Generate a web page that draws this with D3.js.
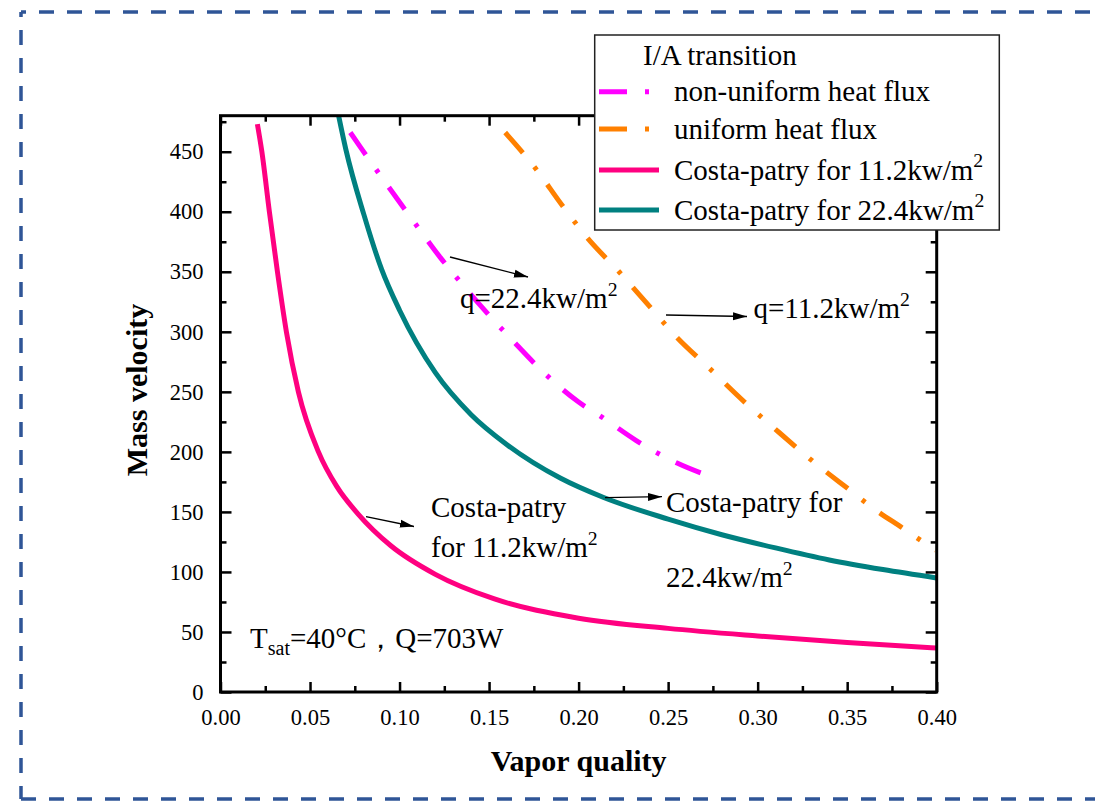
<!DOCTYPE html>
<html><head><meta charset="utf-8">
<script src="https://cdn.jsdelivr.net/npm/d3@7"></script>
<style>
html,body{margin:0;padding:0;background:#fff;}
svg{display:block;}
text{font-family:"Liberation Serif","Times New Roman",serif;fill:#000;}
</style></head>
<body>
<svg id="chart" width="1095" height="801"></svg>
<script>
// ---- data ----
const costa11X = [0.0206,0.0231,0.0273,0.0318,0.0368,0.0435,0.0547,0.065,0.077,0.095,0.12,0.153,0.20,0.25,0.30,0.35,0.40];
const costa11Y = [473,450,400,350,300,250,200,171,148,122,98,77.5,61.5,53,46.7,41.2,36.6];
const costa22X = [0.0650,0.0700,0.080,0.090,0.100,0.120,0.140,0.160,0.190,0.214,0.250,0.280,0.310,0.340,0.370,0.40];
const costa22Y = [487,452,398,352,318,266,231,206,178,162,144,131,120,110,102,95];
const nonUniX = [0.0725,0.079,0.0937,0.1088,0.1227,0.132,0.146,0.163,0.182,0.200,0.213,0.232,0.255,0.2754];
const nonUniY = [466,452,421,390,362,345,320.5,293,264,241.5,229,209.6,190.7,178.6];
const uniX = [0.159,0.176,0.191,0.205,0.2226,0.240,0.2548,0.2728,0.2927,0.3085,0.329,0.3504,0.3674,0.380,0.3993];
const uniY = [466,436,405,378,350,320.5,295.5,270,241.5,220.7,194.4,169.4,150,137.5,118];
const xMajor = [0,0.05,0.10,0.15,0.20,0.25,0.30,0.35,0.40];
const xMinor = [0.025,0.075,0.125,0.175,0.225,0.275,0.325,0.375];
const yMajor = [0,50,100,150,200,250,300,350,400,450];
const yMinor = [25,75,125,175,225,275,325,375,425,475];
const legendTitle = "I/A transition";
const legendLabels = ["non-uniform heat flux","uniform heat flux","Costa-patry for 11.2kw/m","Costa-patry for 22.4kw/m"];

const svg = d3.select("#chart");
const L = 220.5, R = 936.7, T = 115.7, B = 692;
const x = d3.scaleLinear().domain([0,0.4]).range([L,R]);
const y = d3.scaleLinear().domain([0,480]).range([B,T]);

// outer dashed border
const bc = "#2f5597";
const border = svg.append("g").attr("stroke",bc).attr("stroke-width",3.5).attr("fill","none").attr("stroke-dasharray","15,13");
border.append("line").attr("x1",21).attr("y1",12).attr("x2",1100).attr("y2",12).attr("stroke-dashoffset",10);
border.append("line").attr("x1",21).attr("y1",12).attr("x2",21).attr("y2",799).attr("stroke-dashoffset",10);
border.append("line").attr("x1",21).attr("y1",799).attr("x2",1100).attr("y2",799);

// clip + arrow marker
const defs = svg.append("defs");
defs.append("clipPath").attr("id","plotclip").append("rect")
  .attr("x",L).attr("y",T).attr("width",R-L).attr("height",B-T);
defs.append("marker").attr("id","arr").attr("markerUnits","userSpaceOnUse")
  .attr("markerWidth",16).attr("markerHeight",10).attr("refX",14).attr("refY",5).attr("orient","auto")
  .append("path").attr("d","M0,1 L14,5 L0,9 Z").attr("fill","#000");

// curves
const line = d3.line().x(d=>x(d[0])).y(d=>y(d[1])).curve(d3.curveMonotoneX);
const zip = (a,b)=>a.map((v,i)=>[v,b[i]]);
const curves = svg.append("g").attr("clip-path","url(#plotclip)").attr("fill","none");
curves.append("path").attr("d",line(zip(costa11X,costa11Y))).attr("stroke","#ff0080").attr("stroke-width",5);
curves.append("path").attr("d",line(zip(costa22X,costa22Y))).attr("stroke","#008080").attr("stroke-width",5);
curves.append("path").attr("d",line(zip(nonUniX,nonUniY))).attr("stroke","#ff00ff").attr("stroke-width",5).attr("stroke-dasharray","27,18,4,18");
curves.append("path").attr("d",line(zip(uniX,uniY))).attr("stroke","#ff8000").attr("stroke-width",5).attr("stroke-dasharray","27,18,4,18");

// axes
const fmtX = d3.format(".2f");
svg.append("g").attr("transform",`translate(0,${B})`)
  .call(d3.axisBottom(x).tickValues(xMajor).tickSize(-10).tickPadding(17.4).tickFormat(fmtX));
svg.append("g").attr("transform",`translate(0,${B})`).call(d3.axisBottom(x).tickValues(xMinor).tickSize(-6).tickFormat(""));
svg.append("g").attr("transform",`translate(0,${T})`).call(d3.axisTop(x).tickValues(xMajor).tickSize(-10).tickFormat(""));
svg.append("g").attr("transform",`translate(0,${T})`).call(d3.axisTop(x).tickValues(xMinor).tickSize(-6).tickFormat(""));
svg.append("g").attr("transform",`translate(${L},0)`)
  .call(d3.axisLeft(y).tickValues(yMajor).tickSize(-11).tickPadding(17));
svg.append("g").attr("transform",`translate(${L},0)`).call(d3.axisLeft(y).tickValues(yMinor.filter(v=>v<480)).tickSize(-6).tickFormat(""));
svg.append("g").attr("transform",`translate(${R},0)`).call(d3.axisRight(y).tickValues(yMajor).tickSize(-11).tickFormat(""));
svg.append("g").attr("transform",`translate(${R},0)`).call(d3.axisRight(y).tickValues(yMinor.filter(v=>v<480)).tickSize(-6).tickFormat(""));
svg.selectAll(".domain").remove();
svg.selectAll(".tick line").attr("stroke","#000").attr("stroke-width",2.5);
svg.selectAll(".tick text").attr("font-family","Liberation Serif, Times New Roman, serif").attr("font-size",22.5).attr("fill","#000");
// frame
svg.append("rect").attr("x",L).attr("y",T).attr("width",R-L).attr("height",B-T)
  .attr("fill","none").attr("stroke","#000").attr("stroke-width",3);

// axis titles
svg.append("text").attr("x",(L+R)/2).attr("y",771).attr("text-anchor","middle")
  .attr("font-size",30).attr("font-weight","bold").text("Vapor quality");
svg.append("text").attr("transform","translate(147,390) rotate(-90)").attr("text-anchor","middle")
  .attr("font-size",30).attr("font-weight","bold").text("Mass velocity");

// helper for superscript text
function supText(g, xx, yy, main, sup, fs){
  const t = g.append("text").attr("x",xx).attr("y",yy).attr("font-size",fs);
  t.append("tspan").text(main);
  if(sup) t.append("tspan").attr("font-size",fs*0.68).attr("dy",-fs*0.42).text(sup);
  return t;
}
const ann = svg.append("g");
function arrow(x1,y1,x2,y2){
  ann.append("line").attr("x1",x1).attr("y1",y1).attr("x2",x2).attr("y2",y2)
    .attr("stroke","#000").attr("stroke-width",1.3).attr("marker-end","url(#arr)");
}
arrow(450,257,528,277);
supText(ann,460,308,"q=22.4kw/m","2",29);
arrow(666,315,747,316.5);
supText(ann,753.5,318,"q=11.2kw/m","2",29);
arrow(605,497.7,662,496.7);
supText(ann,666,511.7,"Costa-patry for",null,29);
supText(ann,666,586.7,"22.4kw/m","2",29);
arrow(366,516.7,414,526.5);
supText(ann,431,516.7,"Costa-patry",null,29);
supText(ann,431,556.7,"for 11.2kw/m","2",29);
const tsat = ann.append("text").attr("x",250).attr("y",648.3).attr("font-size",29);
tsat.append("tspan").text("T");
tsat.append("tspan").attr("font-size",20).attr("dy",7).text("sat");
tsat.append("tspan").attr("dy",-7).text("=40°C，Q=703W");

// legend
const lg = svg.append("g");
lg.append("rect").attr("x",594.7).attr("y",35).attr("width",999.3-594.7).attr("height",230-35)
  .attr("fill","#fff").attr("stroke","#222").attr("stroke-width",1.5);
lg.append("text").attr("x",643).attr("y",65).attr("font-size",29).text(legendTitle);
const legY = [91.7,129,170,210];
const legColors = ["#ff00ff","#ff8000","#ff0080","#008080"];
const legDash = ["28,18,4,100","28,18,4,100",null,null];
legendLabels.forEach((lab,i)=>{
  lg.append("line").attr("x1",599).attr("x2",659).attr("y1",legY[i]).attr("y2",legY[i])
    .attr("stroke",legColors[i]).attr("stroke-width",5).attr("stroke-dasharray",legDash[i]);
  supText(lg,674,legY[i]+9.5,lab,i>=2?"2":null,29);
});
</script>
</body></html>
